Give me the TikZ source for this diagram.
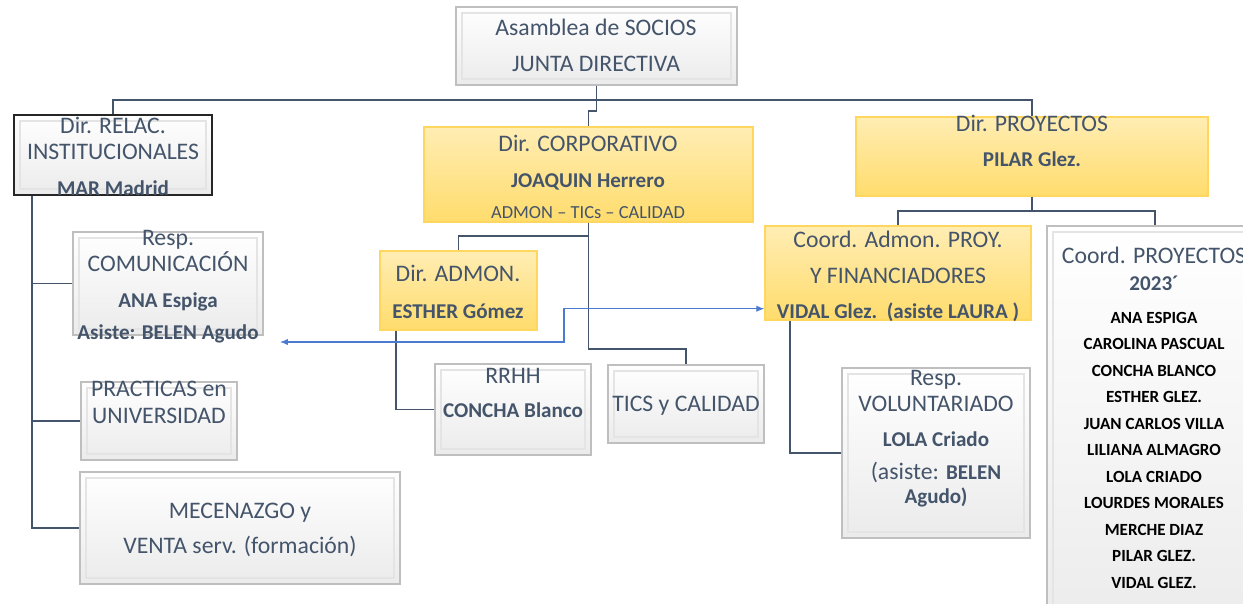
\documentclass[tikz,border=0pt]{standalone}
\usepackage{fontspec}
\setmainfont{Carlito}
\usetikzlibrary{fit,calc,arrows.meta}
\definecolor{slate}{HTML}{44546A}
\definecolor{wborder}{HTML}{BFBFBF}
\definecolor{winner}{HTML}{E4E4E4}
\definecolor{wbot}{HTML}{EBEBEB}
\definecolor{ytop}{HTML}{FFEDB3}
\definecolor{ybot}{HTML}{FFDC6C}
\definecolor{yborder}{HTML}{FFD75E}
\definecolor{barrowc}{HTML}{4A7BD0}
\begin{document}
\begin{tikzpicture}[x=0.02cm,y=-0.02cm,
  wbox/.style={rectangle, inner sep=0pt, draw=wborder, line width=0.8pt,
    top color=white, bottom color=wbot,
    path picture={\draw[winner,line width=0.8pt]
      ([xshift=3.5pt,yshift=-3.5pt]path picture bounding box.north west) rectangle
      ([xshift=-3.5pt,yshift=3.5pt]path picture bounding box.south east);}},
  ybox/.style={rectangle, inner sep=0pt, draw=yborder, line width=0.8pt,
    top color=ytop, bottom color=ybot},
  txt/.style={text=slate, inner sep=0pt, text height=0.64em, text depth=0pt,
    yshift=-1.5pt, font=\fontsize{13.5}{16}\selectfont},
  btxt/.style={txt, font=\fontsize{12}{14}\selectfont\bfseries},
  stxt/.style={txt, font=\fontsize{10.5}{12}\selectfont},
  ltxt/.style={txt, text=black, font=\fontsize{9.7}{11}\selectfont\bfseries},
  conn/.style={draw=slate, line width=1.1pt},
  barrow/.style={draw=barrowc, line width=0.6pt, {Latex[length=4.5pt,width=3.6pt]}-{Latex[length=4.5pt,width=3.6pt]}}
]
\path[use as bounding box, clip] (0,0) rectangle (1243,603);
\fill[white] (0,0) rectangle (1243,603);

% boxes
\node[wbox, fit={(456,7)(737,85)}] (asam) {};
\node[wbox, draw=black!85, fit={(14,115)(212,195)}] (relac) {};
\node[ybox, fit={(424,127)(753,222)}] (corp) {};
\node[ybox, fit={(856,117)(1208,196)}] (proy) {};
\node[ybox, fit={(765,226)(1031,320)}] (cadm) {};
\node[wbox, fit={(1047,226)(1263,640)}] (cproy) {};
\node[ybox, fit={(380,251)(537,330)}] (admon) {};
\node[wbox, fit={(435,364)(591,455)}] (rrhh) {};
\node[wbox, fit={(608,365)(764,443)}] (tics) {};
\node[wbox, fit={(842,368)(1030,538)}] (volun) {};
\node[wbox, fit={(73,232)(263,335)}] (com) {};
\node[wbox, fit={(81,382)(237,460)}] (prac) {};
\node[wbox, fit={(80,472)(400,584)}] (mec) {};

% connectors
\coordinate (h1) at (0,100);
\draw[conn] (relac.north) -- (relac.north |- h1) -- (proy.north |- h1) -- (proy.north);
\draw[conn] (asam.south) -- (asam.south |- h1) -- ++(0,11) -| (corp.north);
\draw[conn] (corp.south) -- ++(0,13) -| (admon.north);
\draw[conn] (corp.south) -- ++(0,126) -| (tics.north);
\draw[conn] ($(admon.south west)+(17,0)$) |- (rrhh.west);
\draw[conn] (proy.south) -- ++(0,14) coordinate (pj);
\draw[conn] (cadm.north) |- (pj) -| (cproy.north);
\draw[conn] ($(cadm.south west)+(26,0)$) |- (volun.west);
\coordinate (lv) at ($(relac.south west)+(19,0)$);
\draw[conn] (lv) |- (mec.west);
\draw[conn] (lv) |- (com.west);
\draw[conn] (lv) |- (prac.west);
\coordinate (bl) at (280,342);
\draw[barrow] (bl) -- ++(284,0) |- ($(cadm.south west)+(0,-12)$);

% texts
\node[txt] (ta1) at (596,27) {Asamblea de SOCIOS};
\node[txt] (ta2) at (596,63) {JUNTA DIRECTIVA};

\node[txt] (tr1) at (113,125) {Dir. RELAC.};
\node[txt] (tr2) at (113,151) {INSTITUCIONALES};
\node[btxt] (tr3) at (113,187) {MAR Madrid};

\node[txt] (tc1) at (588,143) {Dir. CORPORATIVO};
\node[btxt] (tc2) at (588,179) {JOAQUIN Herrero};
\node[stxt] (tc3) at (588,210) {ADMON \textendash{} TICs \textendash{} CALIDAD};

\node[txt] (tp1) at (1032,123) {Dir. PROYECTOS};
\node[btxt] (tp2) at (1032,158) {PILAR Glez.};

\node[txt] (td1) at (898,239) {Coord. Admon. PROY.};
\node[txt] (td2) at (898,275) {Y FINANCIADORES};
\node[btxt] (td3) at (898,310) {VIDAL Glez.\ \ (asiste LAURA )};

\node[txt] (tq1) at (1154,255) {Coord. PROYECTOS};
\node[btxt] (tq2) at (1154,282) {2023´};
\node[ltxt] (l1) at (1154,315) {ANA ESPIGA};
\node[ltxt] (l2) at (1154,341) {CAROLINA PASCUAL};
\node[ltxt] (l3) at (1154,368) {CONCHA BLANCO};
\node[ltxt] (l4) at (1154,394) {ESTHER GLEZ.};
\node[ltxt] (l5) at (1154,421) {JUAN CARLOS VILLA};
\node[ltxt] (l6) at (1154,447) {LILIANA ALMAGRO};
\node[ltxt] (l7) at (1154,474) {LOLA CRIADO};
\node[ltxt] (l8) at (1154,500) {LOURDES MORALES};
\node[ltxt] (l9) at (1154,527) {MERCHE DIAZ};
\node[ltxt] (l10) at (1154,553) {PILAR GLEZ.};
\node[ltxt] (l11) at (1154,580) {VIDAL GLEZ.};

\node[txt] (tm1) at (458,273) {Dir. ADMON.};
\node[btxt] (tm2) at (458,310) {ESTHER Gómez};

\node[txt] (th1) at (513,375) {RRHH};
\node[btxt] (th2) at (513,409) {CONCHA Blanco};

\node[txt] (tt1) at (686,403) {TICS y CALIDAD};

\node[txt] (tv1) at (936,377) {Resp.};
\node[txt] (tv2) at (936,403) {VOLUNTARIADO};
\node[btxt] (tv3) at (936,438) {LOLA Criado};
\node[txt] (tv4) at (936,471) {(asiste: {\fontsize{12}{14}\selectfont\bfseries BELEN}};
\node[btxt] (tv5) at (936,495) {Agudo)};

\node[txt] (to1) at (168,237) {Resp.};
\node[txt] (to2) at (168,263) {COMUNICACIÓN};
\node[btxt] (to3) at (168,299) {ANA Espiga};
\node[btxt] (to4) at (168,331) {Asiste: BELEN Agudo};

\node[txt] (tu1) at (159,388) {PRACTICAS en};
\node[txt] (tu2) at (159,415) {UNIVERSIDAD};

\node[txt] (te1) at (240,510) {MECENAZGO y};
\node[txt] (te2) at (240,545) {VENTA serv. (formación)};
\end{tikzpicture}
\end{document}
